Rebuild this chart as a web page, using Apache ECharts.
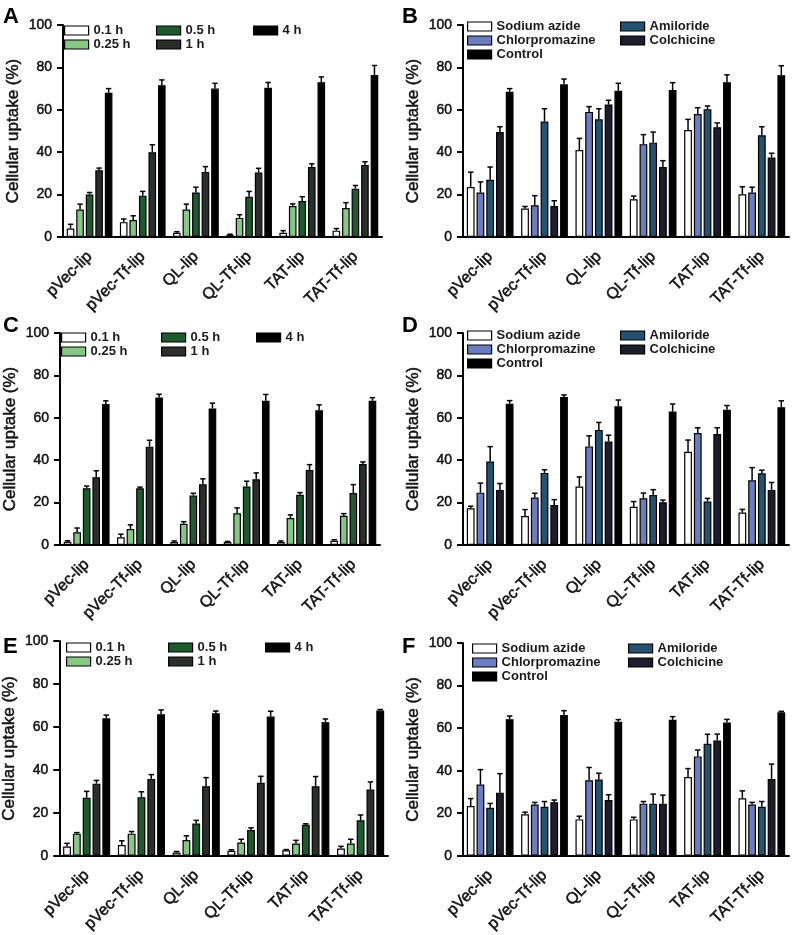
<!DOCTYPE html>
<html><head><meta charset="utf-8">
<script src="https://cdn.jsdelivr.net/npm/echarts@6/dist/echarts.min.js"></script>
<style>html,body{margin:0;padding:0;background:#fff}#c{width:799px;height:935px}</style>
</head><body><div id="c"></div>
<script>
// ---------- DATA ----------
const categories = ['pVec-lip','pVec-Tf-lip','QL-lip','QL-Tf-lip','TAT-lip','TAT-Tf-lip'];
const timeNames = ['0.1 h','0.25 h','0.5 h','1 h','4 h'];
const inhibitorNames = ['Sodium azide','Chlorpromazine','Amiloride','Colchicine','Control'];
const yTicks = [0,20,40,60,80,100];

// rows = series (same order as names), columns = categories
const valuesA = [
  [4,7,2,1,2,3],
  [13,8,13,9,14.6,13.7],
  [20,19.5,21,19,17,22.8],
  [31.5,40,30.7,30.4,33,34],
  [68,71.6,70,70.4,73,76.4]
];
const errorsA = [
  [2,1.5,0.5,0.3,1,1],
  [2.5,2,2.5,1.5,1,2.5],
  [1,2,2.5,2.5,2,1.5],
  [1,3.5,2.5,2,1.5,1.5],
  [2,2.5,2.5,2.5,2.5,4.5]
];
const valuesB = [
  [23.6,13.4,41,17.8,50.5,20.2],
  [21,15,59,43.8,58,21],
  [27,54.5,55.5,44.5,60.3,48],
  [49.5,14.6,62.5,33,51.8,37.5],
  [68.5,72,69,69.3,73,76.3]
];
const errorsB = [
  [7,1,5.5,1.5,5,3.5],
  [5,4.5,2.5,4.5,3,2.5],
  [6,6,5,5,1.5,4],
  [2.5,2.5,2,3,2,2],
  [1.5,2.5,3.5,3.5,3.5,4.5]
];
const valuesC = [
  [1.5,3.6,1.4,1.4,1.4,2],
  [6,7.5,10,15,12.7,13.8],
  [26.8,26.8,23.4,27.6,23.7,24.5],
  [32,46.4,28.7,31,35.4,38.2],
  [66.5,69.6,64.4,68,63.6,68]
];
const errorsC = [
  [0.5,1.5,0.5,0.3,0.5,0.5],
  [2,2,1,2.5,1.5,1],
  [1,0.5,1,2.5,1,4],
  [3,3,2.5,3,2.5,1],
  [1.5,1.5,2.5,3,2.5,1.5]
];
const valuesD = [
  [17.3,13.7,27.6,18,44,15.3],
  [24.7,22.4,46.5,22,52.8,30.5],
  [39.4,34,54.3,23.6,20.5,33.8],
  [26,18.9,48.8,20.2,52.3,26],
  [66.6,69.8,65.4,63,63.8,65]
];
const errorsD = [
  [1,3,4.5,2.5,5.5,1.5],
  [4.5,2,5,2.5,2.5,6],
  [7,1.5,3.5,2.5,1.5,1.5],
  [3,2.5,3,1,3,3.5],
  [1.5,1,3,3.5,2,3]
];
const valuesE = [
  [4.3,5,1.5,2.3,2.6,3.4],
  [10.3,10.3,7.3,6.2,5.7,5.7],
  [27,27.3,15,12,14.4,16.5],
  [33.6,35.8,32.4,34,32.4,30.9],
  [64,65.9,66.4,64.8,62.2,67.6]
];
const errorsE = [
  [1.5,2,0.5,0.5,0.3,1],
  [0.5,1,2,1.5,1.5,2],
  [3,2.5,1.5,1,0.5,2.5],
  [1.5,2,4,3,4.5,3.5],
  [1.5,2,1,2.5,1.5,0.5]
];
const valuesF = [
  [23.4,19.5,17.1,17.1,37,27],
  [33.5,24.1,35.5,24.5,46.7,24.1],
  [22.6,23,35.8,24.5,52.6,23],
  [29.6,25.2,26.2,24.5,54.2,36.1],
  [64.2,66.2,63,63.9,62.6,67.4]
];
const errorsF = [
  [3.5,1,1.5,1,4,3.5],
  [7,1,6,1,3,1],
  [2,2.5,3,4.5,4.5,2.5],
  [9,1,2.5,4,3,7],
  [1.5,2,1,1.5,1.5,0.5]
];

// ---------- STYLE / LAYOUT ----------
const timeColors = ['#ffffff','#86c784','#1d5a2e','#2b2f2b','#000000'];
const inhColors = ['#ffffff','#6b7cbf','#255271','#1d1d2e','#000000'];
const FONT = "'Liberation Sans', Arial, sans-serif";
const CAT_GAP = 0.14, BAR_GAP = 0.25;
const TXT = {color:'#111', textBorderColor:'#111', textBorderWidth:0.5, fontFamily:FONT};

const panels = [
  {letter:'A', names:timeNames, colors:timeColors, values:valuesA, errors:errorsA,
   grid:{left:63,top:25,width:319,height:212}, cols:[[0,1],[2,3],[4]], colLeft:[64,156,253], legTop:24, lp:[3,6]},
  {letter:'B', names:inhibitorNames, colors:inhColors, values:valuesB, errors:errorsB,
   grid:{left:463,top:25,width:326,height:212}, cols:[[0,1,4],[2,3]], colLeft:[467,620], legTop:20, lp:[402,6]},
  {letter:'C', names:timeNames, colors:timeColors, values:valuesC, errors:errorsC,
   grid:{left:60,top:333,width:320,height:212}, cols:[[0,1],[2,3],[4]], colLeft:[61,161,256], legTop:331, lp:[3,315]},
  {letter:'D', names:inhibitorNames, colors:inhColors, values:valuesD, errors:errorsD,
   grid:{left:463,top:333,width:326,height:212}, cols:[[0,1,4],[2,3]], colLeft:[467,620], legTop:329, lp:[402,315]},
  {letter:'E', names:timeNames, colors:timeColors, values:valuesE, errors:errorsE,
   grid:{left:58,top:641,width:330,height:216}, cols:[[0,1],[2,3],[4]], colLeft:[66,168,265], legTop:641, lp:[3,636]},
  {letter:'F', names:inhibitorNames, colors:inhColors, values:valuesF, errors:errorsF,
   grid:{left:463,top:643,width:326,height:214}, cols:[[0,1,4],[2,3]], colLeft:[472,628], legTop:642, lp:[402,636]}
];

function errRender(i, n) {
  return function (params, api) {
    const idx = api.value(0), v = api.value(1), e = api.value(2);
    const base = api.coord([idx, v]);
    const topP = api.coord([idx, v + e]);
    const band = api.size([1, 0])[0];
    const W = band * (1 - CAT_GAP);
    const b = W / (n + (n - 1) * BAR_GAP);
    const cx = base[0] - W / 2 + i * b * (1 + BAR_GAP) + b / 2;
    const cap = b * 0.35;
    return {type:'group', children:[
      {type:'line', shape:{x1:cx,y1:base[1],x2:cx,y2:topP[1]}, style:{stroke:'#000',lineWidth:1.5}},
      {type:'line', shape:{x1:cx-cap,y1:topP[1],x2:cx+cap,y2:topP[1]}, style:{stroke:'#000',lineWidth:1.5}}
    ]};
  };
}

const option = {animation:false, backgroundColor:'#fff', textStyle:{fontFamily:FONT},
  grid:[], xAxis:[], yAxis:[], series:[], legend:[], graphic:[]};

panels.forEach((p, pi) => {
  option.grid.push(p.grid);
  option.xAxis.push({type:'category', gridIndex:pi, data:categories,
    axisLine:{lineStyle:{color:'#000',width:2}},
    axisTick:{alignWithLabel:true, length:6, lineStyle:{color:'#000',width:2}},
    axisLabel:Object.assign({rotate:45, fontSize:16, margin:17, interval:0}, TXT)});
  option.yAxis.push({type:'value', gridIndex:pi, min:yTicks[0], max:yTicks[yTicks.length-1], interval:yTicks[1]-yTicks[0],
    name:'Cellular uptake (%)', nameLocation:'middle', nameGap:41,
    nameTextStyle:Object.assign({fontSize:17}, TXT),
    axisLine:{show:true, lineStyle:{color:'#000',width:2}},
    axisTick:{show:true, length:6, lineStyle:{color:'#000',width:2}},
    axisLabel:Object.assign({fontSize:14, margin:11}, TXT),
    splitLine:{show:false}});
  const n = p.names.length;
  p.names.forEach((name, si) => {
    option.series.push({type:'bar', name:name, xAxisIndex:pi, yAxisIndex:pi,
      data:p.values[si], barCategoryGap:(CAT_GAP*100)+'%', barGap:(BAR_GAP*100)+'%',
      itemStyle:{color:p.colors[si], borderColor:'#000', borderWidth:1.2}});
  });
  p.names.forEach((name, si) => {
    option.series.push({type:'custom', name:'err'+pi+'_'+si, xAxisIndex:pi, yAxisIndex:pi,
      renderItem:errRender(si, n), z:5,
      data:p.values[si].map((v, ci) => [ci, v, p.errors[si][ci]])});
  });
  p.cols.forEach((col, ci) => {
    option.legend.push({orient:'vertical', left:p.colLeft[ci], top:p.legTop,
      itemWidth:24, itemHeight:9, itemGap:1, icon:'rect', padding:0, itemTextGap:7,
      data:col.map(k => p.names[k]),
      itemStyle:{borderColor:'#000', borderWidth:1.2},
      textStyle:{fontSize:13, fontWeight:'bold', color:'#1a1a1a', fontFamily:FONT, lineHeight:13}});
  });
  option.graphic.push({type:'text', left:p.lp[0], top:p.lp[1],
    style:{text:p.letter, fontSize:22, fontWeight:'bold', fill:'#000', fontFamily:FONT}});
});

const chart = echarts.init(document.getElementById('c'), null, {renderer:'canvas'});
chart.setOption(option);
</script></body></html>
